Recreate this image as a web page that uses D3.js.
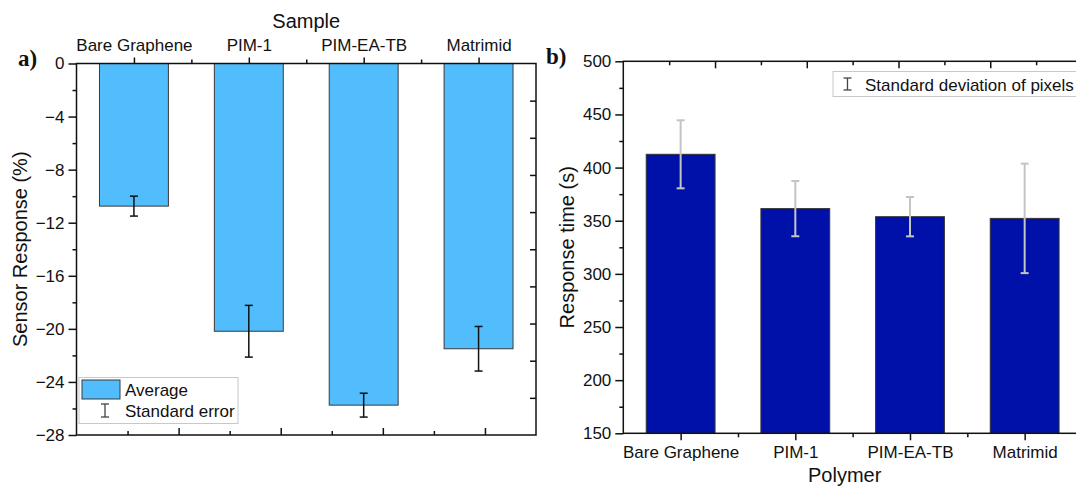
<!DOCTYPE html>
<html><head><meta charset="utf-8">
<script src="https://cdn.jsdelivr.net/npm/d3@7"></script>
<style>
html,body{margin:0;padding:0;background:#fff;}
svg{display:block;}
text{font-family:"Liberation Sans",Arial,sans-serif;fill:#111;}
</style></head>
<body>
<svg id="chart" width="1076" height="486"></svg>
<script>
// ---- data ----
const categories = ["Bare Graphene", "PIM-1", "PIM-EA-TB", "Matrimid"];
const sensorResponse = [-10.75, -20.18, -25.75, -21.5];
const sensorError = [0.75, 1.95, 0.9, 1.68];
const responseTime = [412.5, 361.4, 353.8, 352.2];
const responseSD = [32, 26, 18.5, 51.5];
const leftYTicks = [0, -4, -8, -12, -16, -20, -24, -28];
const rightYTicks = [150, 200, 250, 300, 350, 400, 450, 500];

const svg = d3.select("#chart");
const fmtMinus = d => (d < 0 ? "\u2212" + Math.abs(d) : String(d));

// ---------------- Panel a ----------------
const L = {x0: 76.5, x1: 536, y0: 63.5, y1: 435};
const xA = d3.scaleBand().domain(categories).range([L.x0, L.x1]).paddingInner(0.4).paddingOuter(0.2);
const xALin = d3.scaleLinear().domain([0.5, 4.5]).range([L.x0, L.x1]);
const yA = d3.scaleLinear().domain([0, -28]).range([L.y0, L.y1]);
const gA = svg.append("g");

// bars
gA.selectAll("rect.bar").data(categories).join("rect")
  .attr("x", d => xA(d)).attr("width", xA.bandwidth())
  .attr("y", yA(0)).attr("height", (d, i) => yA(sensorResponse[i]) - yA(0))
  .attr("fill", "#52BDFC").attr("stroke", "#3a3a3a").attr("stroke-width", 1);

// error bars
categories.forEach((c, i) => {
  const cx = xA(c) + xA.bandwidth() / 2;
  const yt = yA(sensorResponse[i] + sensorError[i]);
  const yb = yA(sensorResponse[i] - sensorError[i]);
  const g = gA.append("g").attr("stroke", "#111").attr("stroke-width", 1.5);
  g.append("line").attr("x1", cx).attr("x2", cx).attr("y1", yt).attr("y2", yb);
  g.append("line").attr("x1", cx - 4).attr("x2", cx + 4).attr("y1", yt).attr("y2", yt);
  g.append("line").attr("x1", cx - 4).attr("x2", cx + 4).attr("y1", yb).attr("y2", yb);
});

function styleAxis(g) {
  g.select(".domain").remove();
  g.selectAll("line").attr("stroke", "#111").attr("stroke-width", 1.5);
  g.selectAll("text").attr("fill", "#111").style("font-family", '"Liberation Sans",Arial,sans-serif');
}

// left y axis major + minor
gA.append("g").attr("transform", `translate(${L.x0},0)`)
  .call(d3.axisLeft(yA).tickValues(leftYTicks).tickFormat(fmtMinus).tickSize(8).tickPadding(4))
  .call(styleAxis).selectAll("text").style("font-size", "17px");
gA.append("g").attr("transform", `translate(${L.x0},0)`)
  .call(d3.axisLeft(yA).tickValues(d3.range(-2, -28, -4)).tickFormat("").tickSize(4))
  .call(styleAxis);

// top axis (categories)
gA.append("g").attr("transform", `translate(0,${L.y0})`)
  .call(d3.axisTop(xALin).tickValues([1, 2, 3, 4]).tickFormat(d => categories[d - 1]).tickSize(6).tickPadding(7))
  .call(styleAxis).selectAll("text").style("font-size", "17px");
gA.append("g").attr("transform", `translate(0,${L.y0})`)
  .call(d3.axisTop(xALin).tickValues([1.5, 2.5, 3.5]).tickFormat("").tickSize(4))
  .call(styleAxis);

// bottom axis (inward ticks, unlabeled)
const xABot = d3.scaleLinear().domain([0, 9]).range([L.x0, L.x1]);
gA.append("g").attr("transform", `translate(0,${L.y1})`)
  .call(d3.axisTop(xABot).tickValues([2, 4, 6, 8]).tickFormat("").tickSize(7))
  .call(styleAxis);
gA.append("g").attr("transform", `translate(0,${L.y1})`)
  .call(d3.axisTop(xABot).tickValues([1, 3, 5, 7]).tickFormat("").tickSize(4))
  .call(styleAxis);

// right axis (inward ticks)
const yARight = d3.scaleLinear().domain([0, 10]).range([L.y0, L.y1]);
gA.append("g").attr("transform", `translate(${L.x1},0)`)
  .call(d3.axisLeft(yARight).tickValues(d3.range(1, 10)).tickFormat("").tickSize(6))
  .call(styleAxis);

// frame
gA.append("rect").attr("x", L.x0).attr("y", L.y0).attr("width", L.x1 - L.x0).attr("height", L.y1 - L.y0)
  .attr("fill", "none").attr("stroke", "#111").attr("stroke-width", 1.5);

// titles
gA.append("text").attr("x", (L.x0 + L.x1) / 2).attr("y", 28).attr("text-anchor", "middle")
  .style("font-size", "20px").text("Sample");
gA.append("text").attr("transform", `translate(27,${(L.y0 + L.y1) / 2}) rotate(-90)`)
  .attr("text-anchor", "middle").style("font-size", "20px").text("Sensor Response (%)");
gA.append("text").attr("x", 18).attr("y", 66).style("font-family", '"Liberation Serif","Times New Roman",serif')
  .style("font-weight", "bold").style("font-size", "23px").text("a)");

// legend a
const lg = gA.append("g");
lg.append("rect").attr("x", 79).attr("y", 377.5).attr("width", 159).attr("height", 46)
  .attr("fill", "#fff").attr("stroke", "#c8c8c8").attr("stroke-width", 1);
lg.append("rect").attr("x", 82).attr("y", 380).attr("width", 38).attr("height", 19)
  .attr("fill", "#52BDFC").attr("stroke", "#3a3a3a").attr("stroke-width", 1);
lg.append("text").attr("x", 125).attr("y", 396).style("font-size", "17px").text("Average");
const lgE = lg.append("g").attr("stroke", "#444").attr("stroke-width", 1.3);
lgE.append("line").attr("x1", 105).attr("x2", 105).attr("y1", 404).attr("y2", 417);
lgE.append("line").attr("x1", 101).attr("x2", 109).attr("y1", 404).attr("y2", 404);
lgE.append("line").attr("x1", 101).attr("x2", 109).attr("y1", 417).attr("y2", 417);
lg.append("text").attr("x", 125).attr("y", 417).style("font-size", "17px").text("Standard error");

// ---------------- Panel b ----------------
const R = {x0: 623.3, x1: 1082, y0: 61.3, y1: 433.3};
const xB = d3.scaleBand().domain(categories).range([R.x0, R.x1]).paddingInner(0.4).paddingOuter(0.2);
const xBLin = d3.scaleLinear().domain([0.5, 4.5]).range([R.x0, R.x1]);
const yB = d3.scaleLinear().domain([150, 500]).range([R.y1, R.y0]);
const gB = svg.append("g");

gB.selectAll("rect.bar").data(categories).join("rect")
  .attr("x", d => xB(d)).attr("width", xB.bandwidth())
  .attr("y", (d, i) => yB(responseTime[i])).attr("height", (d, i) => yB(150) - yB(responseTime[i]))
  .attr("fill", "#0011AA").attr("stroke", "#333").attr("stroke-width", 1);

categories.forEach((c, i) => {
  const cx = xB(c) + xB.bandwidth() / 2;
  const yt = yB(responseTime[i] + responseSD[i]);
  const yb = yB(responseTime[i] - responseSD[i]);
  const g = gB.append("g").attr("stroke", "#c4c4c4").attr("stroke-width", 2);
  g.append("line").attr("x1", cx).attr("x2", cx).attr("y1", yt).attr("y2", yb);
  g.append("line").attr("x1", cx - 4).attr("x2", cx + 4).attr("y1", yt).attr("y2", yt);
  g.append("line").attr("x1", cx - 4).attr("x2", cx + 4).attr("y1", yb).attr("y2", yb);
});

// left y axis
gB.append("g").attr("transform", `translate(${R.x0},0)`)
  .call(d3.axisLeft(yB).tickValues(rightYTicks).tickSize(8).tickPadding(4))
  .call(styleAxis).selectAll("text").style("font-size", "17px");
gB.append("g").attr("transform", `translate(${R.x0},0)`)
  .call(d3.axisLeft(yB).tickValues(d3.range(175, 500, 50)).tickFormat("").tickSize(4))
  .call(styleAxis);

// bottom axis
gB.append("g").attr("transform", `translate(0,${R.y1})`)
  .call(d3.axisBottom(xBLin).tickValues([1, 2, 3, 4]).tickFormat(d => categories[d - 1]).tickSize(7).tickPadding(6))
  .call(styleAxis).selectAll("text").style("font-size", "17px");
gB.append("g").attr("transform", `translate(0,${R.y1})`)
  .call(d3.axisBottom(xBLin).tickValues([1.5, 2.5, 3.5]).tickFormat("").tickSize(4))
  .call(styleAxis);

// top axis (inward ticks)
const xBTop = d3.scaleLinear().domain([0, 10]).range([R.x0, R.x1]);
gB.append("g").attr("transform", `translate(0,${R.y0})`)
  .call(d3.axisBottom(xBTop).tickValues([2, 4, 6, 8]).tickFormat("").tickSize(7))
  .call(styleAxis);
gB.append("g").attr("transform", `translate(0,${R.y0})`)
  .call(d3.axisBottom(xBTop).tickValues([1, 3, 5, 7, 9]).tickFormat("").tickSize(4))
  .call(styleAxis);

gB.append("rect").attr("x", R.x0).attr("y", R.y0).attr("width", R.x1 - R.x0).attr("height", R.y1 - R.y0)
  .attr("fill", "none").attr("stroke", "#111").attr("stroke-width", 1.5);

gB.append("text").attr("x", (R.x0 + R.x1) / 2 - 8).attr("y", 482).attr("text-anchor", "middle")
  .style("font-size", "20px").text("Polymer");
gB.append("text").attr("transform", `translate(574,${(R.y0 + R.y1) / 2}) rotate(-90)`)
  .attr("text-anchor", "middle").style("font-size", "20px").text("Response time (s)");
gB.append("text").attr("x", 546).attr("y", 64).style("font-family", '"Liberation Serif","Times New Roman",serif')
  .style("font-weight", "bold").style("font-size", "23px").text("b)");

// legend b
const lgb = gB.append("g");
lgb.append("rect").attr("x", 833).attr("y", 71.5).attr("width", 260).attr("height", 25)
  .attr("fill", "#fff").attr("stroke", "#c8c8c8").attr("stroke-width", 1);
const lgbE = lgb.append("g").attr("stroke", "#444").attr("stroke-width", 1.3);
lgbE.append("line").attr("x1", 847.5).attr("x2", 847.5).attr("y1", 78).attr("y2", 90);
lgbE.append("line").attr("x1", 843.5).attr("x2", 851.5).attr("y1", 78).attr("y2", 78);
lgbE.append("line").attr("x1", 843.5).attr("x2", 851.5).attr("y1", 90).attr("y2", 90);
lgb.append("text").attr("x", 865).attr("y", 90.5).style("font-size", "17px").text("Standard deviation of pixels");
</script>
</body></html>
